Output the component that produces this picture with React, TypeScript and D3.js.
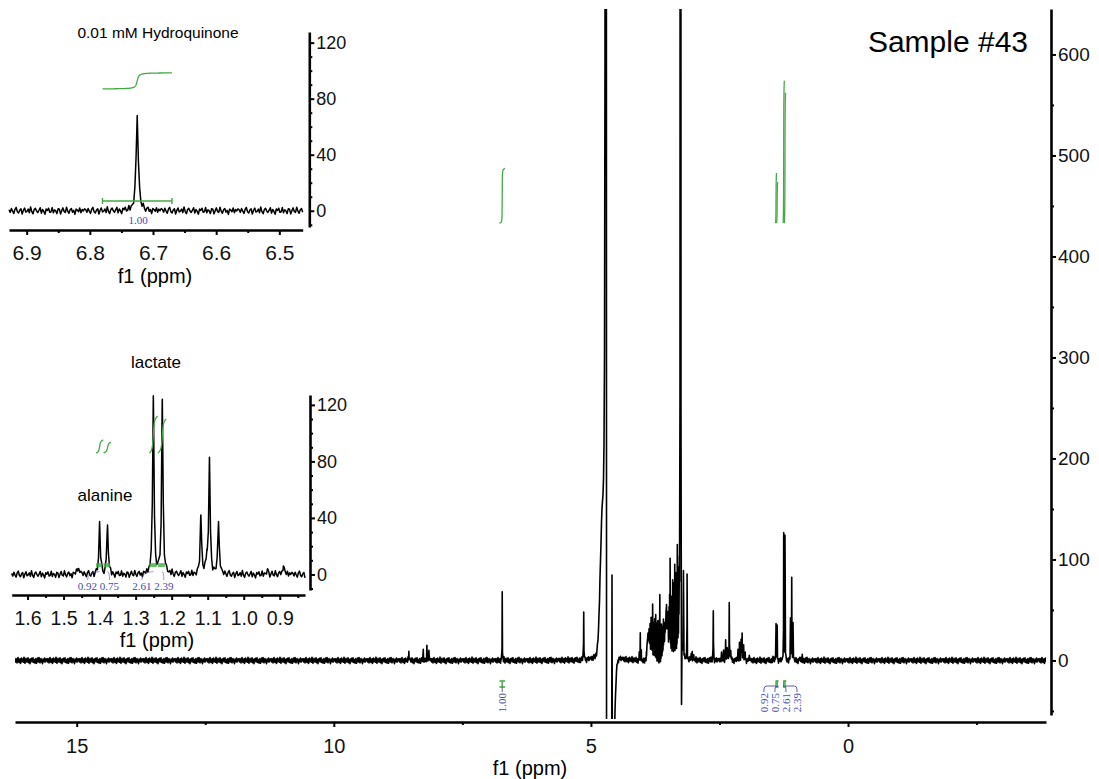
import { useEffect, useRef } from "react";
import { select, scaleLinear, axisBottom, axisRight, line, range, mean } from "d3";

const FONT = "'Liberation Sans', Arial, sans-serif";
const SERIF = "'Liberation Serif', 'Times New Roman', serif";
const GREEN = "#46a846";
const BLUE = "#4848b8";

// peak tables: [ppm, height, half width]
const aromaticPeaks = [[8.54, 9, 0.003], [8.26, 11, 0.003], [8.19, 15, 0.003], [8.15, 10, 0.003]];
const hydroquinonePeaks = [[6.725, 68, 0.002]];
const anomericPeaks = [[5.14, 47, 0.003]];
// dense sugar / amino-acid region
const clusterPpm = [
  4.06, 4.04, 4.02,
  3.92, 3.91, 3.9, 3.89, 3.88, 3.87, 3.86, 3.85, 3.84, 3.83,
  3.82, 3.81, 3.8, 3.79, 3.78, 3.77, 3.76, 3.75, 3.74, 3.73,
  3.72, 3.71, 3.7, 3.69, 3.68, 3.67, 3.66, 3.65, 3.64, 3.63,
  3.62, 3.61, 3.6, 3.59, 3.58, 3.57, 3.56, 3.55, 3.54, 3.53,
  3.52, 3.51, 3.5, 3.49, 3.48, 3.47, 3.46, 3.45, 3.44, 3.43,
  3.42, 3.41, 3.4, 3.39, 3.38, 3.37, 3.36, 3.35, 3.34, 3.33,
  3.32, 3.31, 3.3, 3.29, 3.28,
  3.2, 3.13,
];
const clusterHeight = [
  8, 27, 10,
  8, 14, 20, 26, 18, 30, 24, 35, 28, 41,
  33, 38, 54, 30, 36, 27, 40, 33, 45, 29,
  38, 31, 42, 36, 28, 44, 69, 35, 26, 38,
  30, 34, 25, 40, 32, 28, 36, 30, 44, 53,
  35, 40, 46, 38, 50, 62, 98, 55, 48, 60,
  52, 76, 58, 64, 72, 90, 66, 70, 80, 60,
  105, 78, 58, 65, 48,
  82, 84,
];
const aliphaticPeaks = [
  [3.05, 6, 0.003], [3.03, 8, 0.003], [3.0, 5, 0.003], [2.62, 49, 0.003], [2.46, 7, 0.004],
  [2.42, 10, 0.004], [2.38, 20, 0.003], [2.35, 12, 0.004], [2.31, 57, 0.003], [2.28, 9, 0.004],
  [2.14, 10, 0.004], [2.11, 16, 0.003], [2.08, 20, 0.004], [2.06, 26, 0.003], [2.03, 15, 0.003],
  [2.0, 8, 0.004], [1.92, 5, 0.004], [1.46, 4, 0.004],
];
const alaninePeaks = [[1.4, 36, 0.0022], [1.378, 34.5, 0.0022]];
const lactatePeaks = [[1.251, 125.5, 0.0022], [1.226, 123, 0.0022]];
const methylPeaks = [
  [1.119, 41, 0.0022], [1.102, 10, 0.003], [1.095, 80, 0.0022], [1.07, 36.6, 0.0022],
  [0.935, 3, 0.003], [0.89, 6, 0.003],
];
// water + methanol, phase distorted: [ppm, height, width, shape]
const solventPeaks = [
  [4.71, 3000, 0.008, "l"], [4.69, -2500, 0.004, "l"], [4.78, 120, 0.04, "g"],
  [4.61, -260, 0.045, "g"], [4.59, 310, 0.002, "l"], [3.258, 3000, 0.003, "l"],
  [3.238, -110, 0.004, "l"], [3.67, -6, 0.04, "g"],
];
const baselineNoise = [
  0.6, -1.1, 1.4, -0.3, -1.8, 0.9, 2.1, -0.7, -1.5, 0.4, 1.2, -2.2, 0.2, 1.7, -0.9, -0.4,
  1.0, -1.3, 2.4, -0.6, -2.0, 0.7, 1.5, -0.2, -1.2, 0.3, 1.9, -1.6, 0.8, -0.5, -2.3, 1.1,
  0.1, 1.6, -1.0, -0.8, 2.0, -1.4, 0.5, -0.1, -1.9, 1.3, 0.9, -2.1, 0.0, 1.8, -0.6, -1.1,
  2.2, -0.3, -1.7, 0.6, 1.4, -1.0, 0.2, -2.4, 1.0, 0.4, -0.7, 1.7, -1.3, 0.8, -0.2, 1.2,
];
// integrations
const integralRegions = [[6.78, 6.67], [1.41, 1.39], [1.389, 1.368], [1.262, 1.239], [1.238, 1.215]];
const integralValues = [1.0, 0.92, 0.75, 2.61, 2.39];
// ticks
const mainXTicks = [15, 10, 5, 0];
const mainXMinor = [12.5, 7.5, 2.5, -2.5];
const mainYTicks = [0, 100, 200, 300, 400, 500, 600];
const mainYMinor = [-50, 50, 150, 250, 350, 450, 550];
const hqXTicks = [6.9, 6.8, 6.7, 6.6, 6.5];
const hqXMinor = [6.85, 6.75, 6.65, 6.55];
const lacXTicks = [1.6, 1.5, 1.4, 1.3, 1.2, 1.1, 1.0, 0.9];
const lacXMinor = [1.55, 1.45, 1.35, 1.25, 1.15, 1.05, 0.95, 0.85];
const insetYTicks = [0, 40, 80, 120];
const insetYMinor = [-10, 10, 20, 30, 50, 60, 70, 90, 100, 110];

const clusterPeaks = clusterPpm.map((p, i) => [p, clusterHeight[i], 0.0012]);
const metabolitePeaks = [
  ...aromaticPeaks, ...hydroquinonePeaks, ...anomericPeaks, ...clusterPeaks,
  ...aliphaticPeaks, ...alaninePeaks, ...lactatePeaks, ...methylPeaks,
];

const lorentz = (p: number, c: number, h: number, w: number) => (h * w * w) / ((p - c) * (p - c) + w * w);
const gauss = (p: number, c: number, h: number, s: number) => h * Math.exp(-0.5 * ((p - c) / s) ** 2);

const metaSignal = (p: number) => {
  let s = 0;
  for (const [c, h, w] of metabolitePeaks) s += lorentz(p, c, h, w);
  return s;
};
const fullSignal = (p: number) => {
  let s = metaSignal(p);
  for (const [c, h, w, k] of solventPeaks as any[]) s += k === "g" ? gauss(p, c, h, w) : lorentz(p, c, h, w);
  return s;
};

function sampleSpectrum(x: any, stepPx: number, noiseScale: number) {
  const [d0, d1] = x.domain();
  const r = x.range();
  const n = Math.ceil(Math.abs(r[1] - r[0]) / stepPx);
  const pts: number[][] = range(n + 1).map((i) => [
    d0 + ((d1 - d0) * i) / n,
    baselineNoise[i % baselineNoise.length] * noiseScale,
  ]);
  const lo = Math.min(d0, d1), hi = Math.max(d0, d1);
  [...metabolitePeaks, ...solventPeaks].forEach((pk: any) => {
    if (pk[0] > lo && pk[0] < hi) pts.push([pk[0], 0]);
  });
  pts.sort((a, b) => b[0] - a[0]);
  return pts.map(([p, nz]) => [p, fullSignal(p) + nz]);
}

function integralCurve(region: number[], value: number, base: number, scale: number) {
  const [a, b] = region;
  const n = 240;
  const ppms = range(n + 1).map((i) => a + ((b - a) * i) / n);
  const f = ppms.map(metaSignal);
  const cum = [0];
  let acc = 0;
  for (let i = 1; i <= n; i++) {
    acc += (f[i - 1] + f[i]) / 2;
    cum.push(acc);
  }
  return ppms.map((p, i) => [p, base + (value * scale * cum[i]) / acc]);
}

// spread label centres that would collide
function spreadLabels(centers: number[], gap: number) {
  const groups: number[][] = [];
  centers.forEach((c, i) => {
    const last = groups[groups.length - 1];
    if (last && c - centers[last[last.length - 1]] < gap) last.push(i);
    else groups.push([i]);
  });
  const out: number[] = [];
  groups.forEach((g) => {
    const m = mean(g, (i) => centers[i]) as number;
    g.forEach((i, k) => (out[i] = m + (k - (g.length - 1) / 2) * gap));
  });
  return out;
}

function drawAxes(g: any, o: any) {
  const { x, y, xAt, yAt, xTicks, xMinor, yTicks, yMinor, xFmt, xFont, yFont, xPad } = o;
  const xa = g.append("g").attr("transform", `translate(0,${xAt})`);
  xa.call(axisBottom(x).tickValues(xTicks).tickSize(5).tickSizeOuter(0).tickPadding(xPad).tickFormat(xFmt));
  const xm = g.append("g").attr("transform", `translate(0,${xAt})`);
  xm.call(axisBottom(x).tickValues(xMinor).tickSize(3).tickFormat(() => ""));
  xm.select(".domain").remove();
  const ya = g.append("g").attr("transform", `translate(${yAt},0)`);
  ya.call(axisRight(y).tickValues(yTicks).tickSize(5).tickSizeOuter(0).tickPadding(2));
  const ym = g.append("g").attr("transform", `translate(${yAt},0)`);
  ym.call(axisRight(y).tickValues(yMinor).tickSize(3).tickFormat(() => ""));
  ym.select(".domain").remove();
  [xa, ya].forEach((a) => a.select(".domain").attr("stroke-width", 2.6));
  [xa, ya, xm, ym].forEach((a) => a.selectAll(".tick line").attr("stroke-width", 2));
  xa.selectAll("text").attr("font-size", xFont).attr("font-family", FONT).attr("fill", "#111");
  ya.selectAll("text").attr("font-size", yFont).attr("font-family", FONT).attr("fill", "#111");
}

const lineOf = (x: any, y: any) => line<number[]>().x((d) => x(d[0])).y((d) => y(d[1]));

export default function App() {
  const ref = useRef<SVGSVGElement>(null);

  useEffect(() => {
    const svg = select(ref.current);
    svg.selectAll("*").remove();
    const defs = svg.append("defs");

    // ---------- main spectrum
    const x = scaleLinear().domain([16.2, -3.85]).range([15, 1046]);
    const y = scaleLinear().domain([-54, 645]).range([715, 9]);
    defs.append("clipPath").attr("id", "mainClip").append("rect")
      .attr("x", 15).attr("y", 9).attr("width", 1031).attr("height", 710);
    const main = svg.append("g");
    main.append("path")
      .datum(sampleSpectrum(x, 0.5, 1.35))
      .attr("clip-path", "url(#mainClip)")
      .attr("fill", "none").attr("stroke", "#000").attr("stroke-width", 1.6)
      .attr("stroke-linejoin", "round")
      .attr("d", lineOf(x, y));
    drawAxes(main, {
      x, y, xAt: 722, yAt: 1051, xTicks: mainXTicks, xMinor: mainXMinor, yTicks: mainYTicks,
      yMinor: mainYMinor, xFmt: (d: number) => `${d}`, xFont: 20, yFont: 19, xPad: 12,
    });
    main.append("text").attr("x", 530).attr("y", 775).attr("text-anchor", "middle")
      .attr("font-family", FONT).attr("font-size", 20).text("f1 (ppm)");
    main.append("text").attr("x", 1028).attr("y", 52).attr("text-anchor", "end")
      .attr("font-family", FONT).attr("font-size", 30).text("Sample #43");

    // integrals in main
    integralRegions.forEach((r, i) => {
      main.append("path").datum(integralCurve(r, integralValues[i], 433, 54))
        .attr("fill", "none").attr("stroke", GREEN).attr("stroke-width", 1.3)
        .attr("d", lineOf(x, y));
    });
    const mainCenters = integralRegions.map((r) => x((r[0] + r[1]) / 2));
    const mainLabelX = spreadLabels(mainCenters, 11);
    integralRegions.forEach((r, i) => {
      const x0 = x(r[0]), x1 = Math.max(x(r[1]), x0 + 2), cx = mainCenters[i];
      const gm = main.append("g").attr("stroke", GREEN).attr("stroke-width", 1.4).attr("fill", "none");
      gm.append("path").attr("d", `M${x0},681H${x1}M${x0},687H${x1}M${cx},681V687`);
      const lx = mainLabelX[i];
      const dir = Math.sign(cx - lx);
      const d = Math.abs(cx - lx) < 1
        ? `M${cx},687V692`
        : `M${lx},692V689Q${lx},686 ${lx + dir * 3},686H${cx}`;
      main.append("path").attr("d", d).attr("fill", "none").attr("stroke", BLUE).attr("stroke-width", 0.9);
      main.append("text")
        .attr("transform", `translate(${lx},693) rotate(-90)`)
        .attr("text-anchor", "end").attr("dy", "0.35em")
        .attr("font-family", SERIF).attr("font-size", 11).attr("fill", BLUE)
        .text(integralValues[i].toFixed(2));
    });

    // ---------- hydroquinone inset
    const hx = scaleLinear().domain([6.928, 6.463]).range([9, 302.7]);
    const hy = scaleLinear().domain([-11.6, 127.6]).range([227, 32]);
    const hq = svg.append("g");
    hq.append("path").datum(sampleSpectrum(hx, 1.2, 1.1))
      .attr("fill", "none").attr("stroke", "#000").attr("stroke-width", 1.5)
      .attr("stroke-linejoin", "round").attr("d", lineOf(hx, hy));
    drawAxes(hq, {
      x: hx, y: hy, xAt: 230, yAt: 309.3, xTicks: hqXTicks, xMinor: hqXMinor, yTicks: insetYTicks,
      yMinor: insetYMinor, xFmt: (d: number) => d.toFixed(1), xFont: 21, yFont: 18, xPad: 10.5,
    });
    hq.append("text").attr("x", 155).attr("y", 283).attr("text-anchor", "middle")
      .attr("font-family", FONT).attr("font-size", 20).text("f1 (ppm)");
    hq.append("text").attr("x", 158).attr("y", 38).attr("text-anchor", "middle")
      .attr("font-family", FONT).attr("font-size", 15.5).text("0.01 mM Hydroquinone");
    {
      const r = integralRegions[0];
      hq.append("path").datum(integralCurve(r, integralValues[0], 87, 11.4))
        .attr("fill", "none").attr("stroke", GREEN).attr("stroke-width", 1.3).attr("d", lineOf(hx, hy));
      const x0 = hx(r[0]), x1 = hx(r[1]), yb = hy(7);
      hq.append("path").attr("d", `M${x0},${yb}H${x1}M${x0},${yb - 3}V${yb + 3}M${x1},${yb - 3}V${yb + 3}`)
        .attr("stroke", GREEN).attr("stroke-width", 1.4).attr("fill", "none");
      const cx = hx(hydroquinonePeaks[0][0]);
      hq.append("text").attr("x", cx + 1).attr("y", 224).attr("text-anchor", "middle")
        .attr("font-family", SERIF).attr("font-size", 11).attr("fill", BLUE)
        .text(integralValues[0].toFixed(2));
    }

    // ---------- lactate / alanine inset
    const lx = scaleLinear().domain([1.644, 0.83]).range([11.7, 305]);
    const ly = scaleLinear().domain([-11, 127]).range([590, 395]);
    const lac = svg.append("g");
    lac.append("path").datum(sampleSpectrum(lx, 1.1, 1.1))
      .attr("fill", "none").attr("stroke", "#000").attr("stroke-width", 1.5)
      .attr("stroke-linejoin", "round").attr("d", lineOf(lx, ly));
    drawAxes(lac, {
      x: lx, y: ly, xAt: 595, yAt: 310, xTicks: lacXTicks, xMinor: lacXMinor, yTicks: insetYTicks,
      yMinor: insetYMinor, xFmt: (d: number) => d.toFixed(1), xFont: 19.5, yFont: 18, xPad: 11,
    });
    lac.append("text").attr("x", 157).attr("y", 647).attr("text-anchor", "middle")
      .attr("font-family", FONT).attr("font-size", 20).text("f1 (ppm)");
    lac.append("text").attr("x", 156).attr("y", 368).attr("text-anchor", "middle")
      .attr("font-family", FONT).attr("font-size", 17).text("lactate");
    lac.append("text").attr("x", 105).attr("y", 501).attr("text-anchor", "middle")
      .attr("font-family", FONT).attr("font-size", 17).text("alanine");
    const lacRegions = integralRegions.slice(1);
    const lacValues = integralValues.slice(1);
    const lacCenters = lacRegions.map((r) => lx((r[0] + r[1]) / 2));
    const lacLabelX = spreadLabels(lacCenters, 22).map((v) => v - 5);
    lacRegions.forEach((r, i) => {
      lac.append("path").datum(integralCurve(r, lacValues[i], 86, 10))
        .attr("fill", "none").attr("stroke", GREEN).attr("stroke-width", 1.3).attr("d", lineOf(lx, ly));
      const x0 = lx(r[0]), x1 = lx(r[1]);
      lac.append("rect").attr("x", x0).attr("y", ly(8)).attr("width", x1 - x0 - 1).attr("height", 4)
        .attr("fill", GREEN).attr("opacity", 0.8);
      lac.append("path")
        .attr("d", `M${lacLabelX[i]},580Q${lacLabelX[i]},${ly(2)} ${lacCenters[i]},${ly(2)}`)
        .attr("fill", "none").attr("stroke", BLUE).attr("stroke-width", 0.8).attr("opacity", 0.7);
      lac.append("text").attr("x", lacLabelX[i]).attr("y", 589.5).attr("text-anchor", "middle")
        .attr("font-family", SERIF).attr("font-size", 11).attr("fill", BLUE)
        .text(lacValues[i].toFixed(2));
    });
  }, []);

  return (
    <svg
      ref={ref}
      width={1099}
      height={779}
      style={{ position: "absolute", left: 0, top: 0, background: "#fff" }}
    />
  );
}
